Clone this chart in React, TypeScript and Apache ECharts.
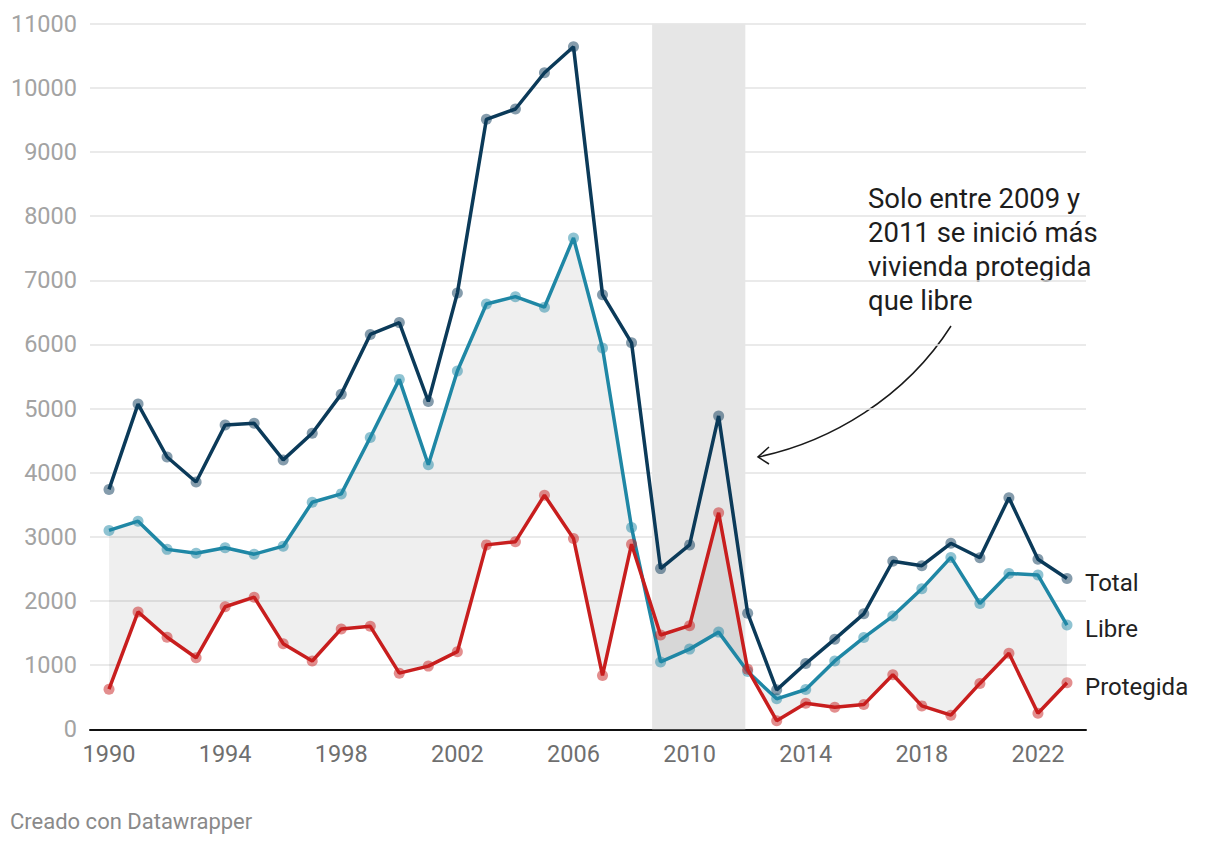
import React, { useEffect, useRef } from "react";
import * as echarts from "echarts";

const years = [1990,1991,1992,1993,1994,1995,1996,1997,1998,1999,2000,2001,2002,2003,2004,2005,2006,2007,2008,2009,2010,2011,2012,2013,2014,2015,2016,2017,2018,2019,2020,2021,2022,2023];
const total = [3740,5070,4245,3855,4745,4770,4200,4615,5225,6155,6340,5110,6800,9510,9670,10235,10640,6775,6025,2505,2875,4885,1810,615,1025,1405,1800,2620,2550,2900,2675,3610,2650,2350];
const libre = [3100,3245,2805,2745,2830,2730,2855,3540,3670,4550,5455,4125,5585,6630,6745,6580,7660,5945,3145,1050,1250,1515,900,475,620,1065,1430,1765,2190,2680,1960,2430,2405,1625];
const protegida = [625,1830,1435,1115,1910,2060,1335,1065,1565,1605,875,985,1210,2875,2925,3650,2975,840,2885,1470,1615,3375,935,135,405,345,385,850,365,220,715,1185,250,725];
const yTicks = { min: 0, max: 11000, interval: 1000 };
const xTickLabels = [1990,1994,1998,2002,2006,2010,2014,2018,2022];
const highlightBand = [2008.71, 2011.92];
const seriesNames = ["Total", "Libre", "Protegida"];
const annotation = "Solo entre 2009 y\n2011 se inició más\nvivienda protegida\nque libre";
const footer = "Creado con Datawrapper";

const colors = { Total: "#0b3a59", Libre: "#1f87a5", Protegida: "#c81e1e" };

export default function App() {
  const ref = useRef<HTMLDivElement>(null);
  useEffect(() => {
    if (!ref.current) return;
    const chart = echarts.init(ref.current, null, { renderer: "svg" });
    const pairs = (arr: number[]) => years.map((y, i) => [y, arr[i]]);
    const mkLine = (name: string, arr: number[], z: number) => ({
      type: "line",
      name,
      data: pairs(arr),
      z,
      symbol: "circle",
      symbolSize: 11,
      showSymbol: true,
      lineStyle: { color: (colors as any)[name], width: 3.5 },
      itemStyle: { color: (colors as any)[name], opacity: 0.5 },
      emphasis: { disabled: true },
      endLabel: {
        show: true,
        formatter: name,
        distance: 18,
        offset: [0, 4],
        fontSize: 24,
        fontFamily: "Roboto",
        color: "#222",
      },
    });
    chart.setOption({
      animation: false,
      textStyle: { fontFamily: "Roboto" },
      grid: { left: 90, right: 134, top: 23.7, bottom: 116.7, containLabel: false },
      xAxis: {
        type: "value",
        min: 1989.345,
        max: 2023.655,
        splitLine: { show: false },
        axisLine: { show: true, lineStyle: { color: "#111", width: 2 } },
        axisTick: { show: false },
        axisLabel: {
          customValues: xTickLabels,
          formatter: (v: number) => String(v),
          fontSize: 23.5,
          color: "#6f6f6f",
          margin: 13,
          fontFamily: "Roboto",
        },
      },
      yAxis: {
        type: "value",
        min: yTicks.min,
        max: yTicks.max,
        interval: yTicks.interval,
        axisLine: { show: false },
        axisTick: { show: false },
        splitLine: { show: true, lineStyle: { color: "#e3e3e3", width: 1.5 } },
        axisLabel: {
          fontSize: 23.5,
          color: "#a3a3a3",
          margin: 13,
          fontFamily: "Roboto",
          formatter: (v: number) => String(v),
        },
      },
      series: [
        {
          type: "line",
          name: "band",
          data: [],
          z: 1,
          silent: true,
          markArea: {
            silent: true,
            itemStyle: { color: "#e6e6e6" },
            data: [[{ xAxis: highlightBand[0] }, { xAxis: highlightBand[1] }]],
          },
        },
        {
          type: "custom",
          name: "fillArea",
          z: 2,
          silent: true,
          data: [[years[0], libre[0]]],
          renderItem: (_params: any, api: any) => {
            const pts: number[][] = [];
            years.forEach((y, i) => pts.push(api.coord([y, libre[i]])));
            for (let i = years.length - 1; i >= 0; i--) pts.push(api.coord([years[i], protegida[i]]));
            return {
              type: "polygon",
              shape: { points: pts },
              style: { fill: "rgba(0,0,0,0.062)", stroke: "none" },
            };
          },
        },
        mkLine(seriesNames[1], libre, 3),
        mkLine(seriesNames[2], protegida, 4),
        mkLine(seriesNames[0], total, 5),
      ],
      graphic: [
        {
          type: "text",
          left: 868,
          top: 181,
          style: {
            text: annotation,
            fontSize: 27.5,
            lineHeight: 34,
            fill: "#1d1d1d",
            fontFamily: "Roboto",
          },
        },
        {
          type: "bezierCurve",
          shape: { x1: 951, y1: 326, cpx1: 905, cpy1: 398, cpx2: 830, cpy2: 442, x2: 758, y2: 457 },
          style: { stroke: "#1a1a1a", lineWidth: 1.5, fill: "none" },
        },
        {
          type: "polyline",
          shape: { points: [[769, 447], [758, 457], [769, 464]] },
          style: { stroke: "#1a1a1a", lineWidth: 1.5, fill: "none" },
        },
        {
          type: "text",
          left: 10,
          top: 810,
          style: { text: footer, fontSize: 22, fill: "#8a8a8a", fontFamily: "Roboto" },
        },
      ],
    });
    return () => chart.dispose();
  }, []);
  return (
    <div
      ref={ref}
      style={{ position: "fixed", left: 0, top: 0, width: 1220, height: 846, background: "#fff" }}
    />
  );
}
